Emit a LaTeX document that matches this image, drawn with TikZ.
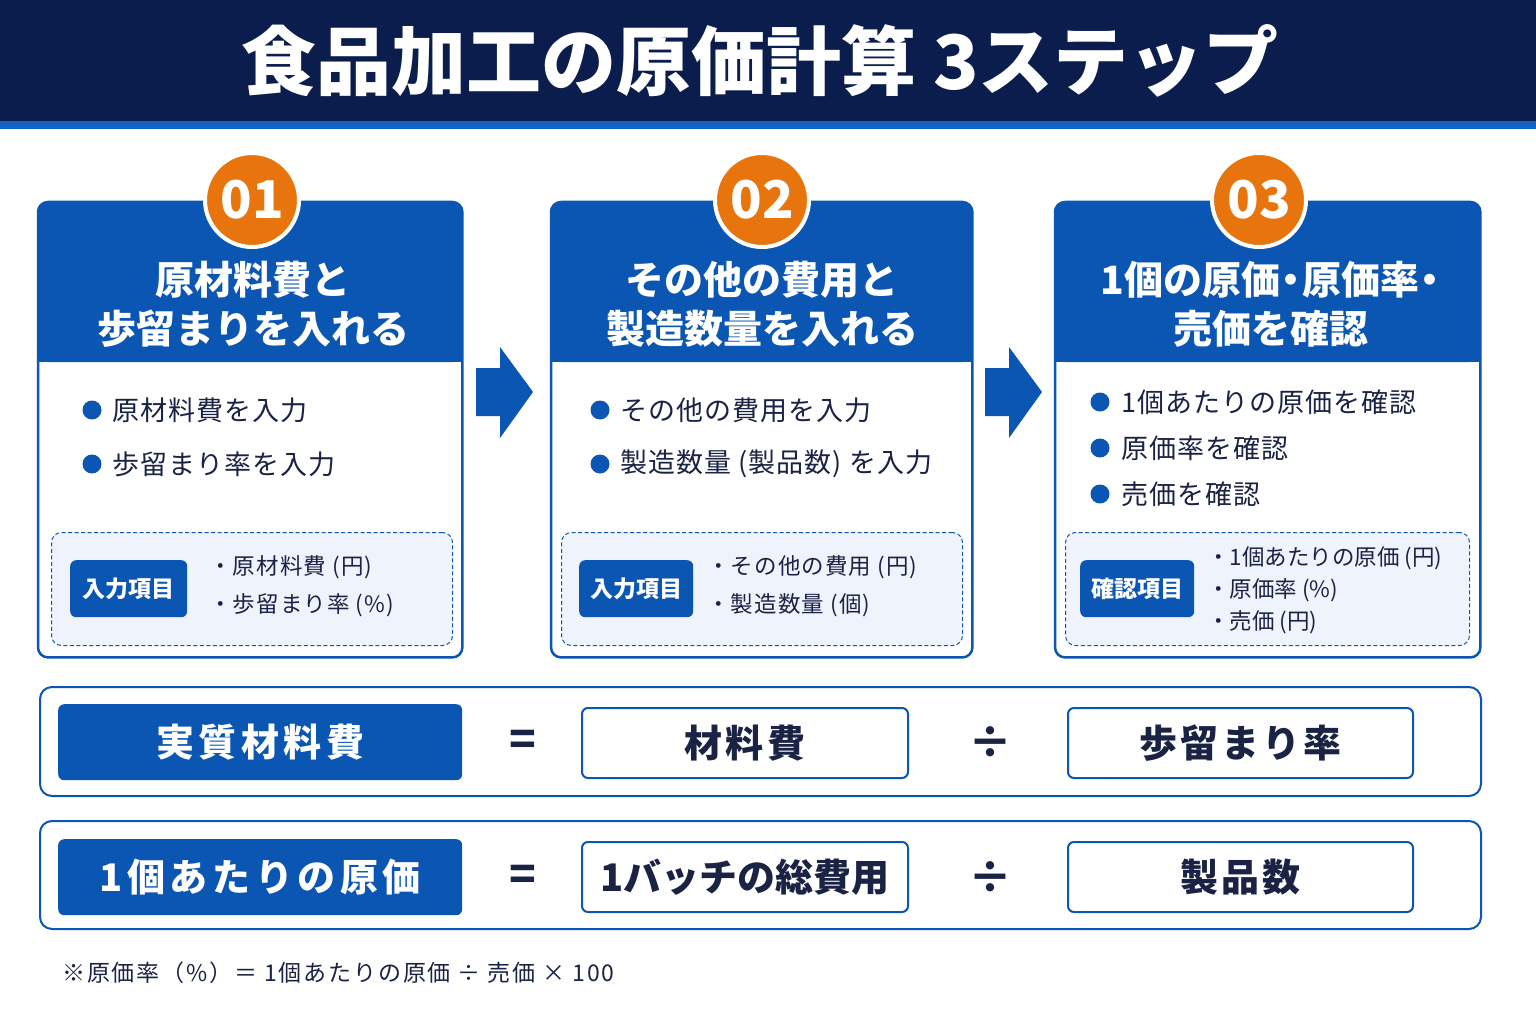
\documentclass[tikz,border=0pt]{standalone}
\usepackage{fontspec}
\setmainfont{Noto Sans CJK JP}
\definecolor{navy}{HTML}{0B1D4C}
\definecolor{stripe}{HTML}{1562C4}
\definecolor{cblue}{HTML}{0A56B2}
\definecolor{orng}{HTML}{E8740E}
\definecolor{ink}{HTML}{1A2344}
\definecolor{light}{HTML}{EEF3FC}
\tikzset{
  fs/.style={font=\fontsize{#1}{#1}\selectfont},
  fsb/.style={font=\fontsize{#1}{#1}\selectfont\bfseries},
  card/.style={fill=white, rounded corners=10, inner sep=0, anchor=north west},
  badge/.style={circle, fill=orng, draw=white, line width=4, minimum size=94, inner sep=0, text=white, fsb=52},
  head/.style={text=white, align=center, font=\fontsize{39}{49}\selectfont\bfseries},
  bul/.style={anchor=west, inner sep=0, text=ink, font=\fontsize{27}{27}\selectfont\addfontfeature{LetterSpace=4}},
  dotb/.style={fill=cblue},
  dbox/.style={draw=cblue, line width=1, dash pattern=on 4pt off 2.5pt, fill=light, rounded corners=10, inner sep=0, anchor=north west},
  lab/.style={fill=cblue, rounded corners=6, inner sep=0, text=white, fsb=23, anchor=north west},
  item/.style={anchor=west, inner sep=0, text=ink, font=\fontsize{22.5}{22.5}\selectfont\addfontfeature{LetterSpace=5}},
  itemt/.style={anchor=west, inner sep=0, text=ink, font=\fontsize{22.5}{22.5}\selectfont},
  frow/.style={draw=cblue, line width=2, fill=white, rounded corners=12, inner sep=0, anchor=north west},
  flab/.style={fill=cblue, rounded corners=6, inner sep=0, text=white, font=\fontsize{38}{38}\selectfont\bfseries\addfontfeature{LetterSpace=12}, anchor=north west},
  fbox/.style={draw=cblue, line width=2, fill=white, rounded corners=6, inner sep=0, text=ink, font=\fontsize{38}{38}\selectfont\bfseries\addfontfeature{LetterSpace=8}, anchor=north west},
  tight/.style={font=\fontsize{38}{38}\selectfont\bfseries},
  op/.style={text=ink, fsb=44},
  barrow/.style={fill=cblue}
}
\newcommand\cardframe[3]{%
  \node[card, minimum width=#3-#2, minimum height=455] (#1) at (#2,202) {};
  \fill[cblue, rounded corners=10] (#2,202) rectangle (#3,362);
  \fill[cblue] (#2,330) rectangle (#3,362);
  \draw[cblue, line width=2.5, rounded corners=10] (#1.north west) rectangle (#1.south east);
}
\newcommand\mdot{\kern-0.22em・\kern-0.22em}
\begin{document}
\begin{tikzpicture}[x=1pt,y=-1pt]
\useasboundingbox (0,0) rectangle (1536,1024);
\fill[white] (0,0) rectangle (1536,1024);
% title bar
\fill[navy] (0,0) rectangle (1536,121);
\fill[stripe] (0,121) rectangle (1536,129);
\node[text=white, fsb=75] (title) at (760,61) {食品加工の原価計算 3ステップ};

% ---- cards ----
\cardframe{card1}{38}{462}
\cardframe{card2}{551}{972}
\cardframe{card3}{1055}{1480}

\node[badge] (b1) at (252,200) {01};
\node[badge] (b2) at (762,200) {02};
\node[badge] (b3) at (1259,200) {03};

\node[head] (h1) at (253,304) {原材料費と\\歩留まりを入れる};
\node[head] (h2) at (762,304) {その他の費用と\\製造数量を入れる};
\node[head] (h3) at (1271,304) {1個の原価\mdot 原価率\mdot\\売価を確認};

% arrows between cards
\coordinate (a1) at (476,392);
\coordinate (a2) at (985,392);
\fill[barrow] (a1) ++(0,-24) -- ++(24,0) -- ++(0,-21) -- ++(33,45) -- ++(-33,46) -- ++(0,-22) -- ++(-24,0) -- cycle;
\fill[barrow] (a2) ++(0,-24) -- ++(24,0) -- ++(0,-21) -- ++(33,45) -- ++(-33,46) -- ++(0,-22) -- ++(-24,0) -- cycle;

% card 1 bullets
\fill[dotb] (92,410) circle (9.5);
\node[bul] (c1l1) at (112,410) {原材料費を入力};
\fill[dotb] (92,464) circle (9.5);
\node[bul] (c1l2) at (112,464) {歩留まり率を入力};
% card 2 bullets
\fill[dotb] (600,410) circle (9.5);
\node[bul] (c2l1) at (620,410) {その他の費用を入力};
\fill[dotb] (600,464) circle (9.5);
\node[bul] (c2l2) at (620,464) {製造数量 (製品数) を入力};
% card 3 bullets
\fill[dotb] (1100,402) circle (9.5);
\node[bul] (c3l1) at (1121,402) {1個あたりの原価を確認};
\fill[dotb] (1100,448) circle (9.5);
\node[bul] (c3l2) at (1121,448) {原価率を確認};
\fill[dotb] (1100,494) circle (9.5);
\node[bul] (c3l3) at (1121,494) {売価を確認};

% dashed boxes
\node[dbox, minimum width=401, minimum height=113] (d1) at (51,532) {};
\node[dbox, minimum width=401, minimum height=113] (d2) at (561,532) {};
\node[dbox, minimum width=404, minimum height=113] (d3) at (1065,532) {};

\node[lab, minimum width=117, minimum height=57] (l1) at (70,560) {入力項目};
\node[lab, minimum width=114, minimum height=57] (l2) at (579,560) {入力項目};
\node[lab, minimum width=114, minimum height=57] (l3) at (1080,560) {確認項目};

\node[item] (i11) at (209,567) {・原材料費 (円)};
\node[item] (i12) at (209,605) {・歩留まり率 (\%)};
\node[item] (i21) at (707,567) {・その他の費用 (円)};
\node[item] (i22) at (707,605) {・製造数量 (個)};
\node[itemt] (i31) at (1207,558) {・1個あたりの原価 (円)};
\node[itemt] (i32) at (1207,590) {・原価率 (\%)};
\node[itemt] (i33) at (1207,622) {・売価 (円)};

% ---- formula rows ----
\node[frow, minimum width=1441, minimum height=109] (r1) at (39,686) {};
\node[flab, minimum width=404, minimum height=76] (f1) at (58,704) {実質材料費};
\node[op] (eq1) at (523,743) {=};
\node[fbox, minimum width=326, minimum height=70] (f2) at (581,707) {材料費};
\node[op] (dv1) at (990,743) {÷};
\node[fbox, minimum width=345, minimum height=70] (f3) at (1067,707) {歩留まり率};

\node[frow, minimum width=1441, minimum height=108] (r2) at (39,820) {};
\node[flab, minimum width=404, minimum height=76] (g1) at (58,839) {1個あたりの原価};
\node[op] (eq2) at (523,878) {=};
\node[fbox, tight, minimum width=326, minimum height=70] (g2) at (581,841) {1バッチの総費用};
\node[op] (dv2) at (990,878) {÷};
\node[fbox, minimum width=345, minimum height=70] (g3) at (1067,841) {製品数};

% footnote
\node[anchor=west, inner sep=0, text=ink, font=\fontsize{23}{23}\selectfont\addfontfeature{LetterSpace=8}] (note) at (62,973) {※原価率（\%）＝ 1個あたりの原価 ÷ 売価 × 100};
\end{tikzpicture}
\end{document}
